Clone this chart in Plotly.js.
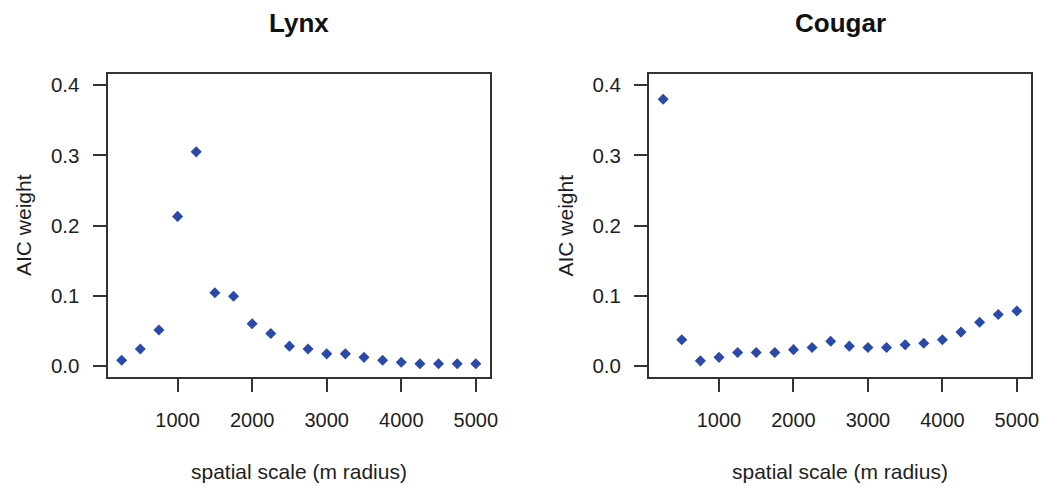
<!DOCTYPE html>
<html>
<head>
<meta charset="utf-8">
<script src="https://cdn.plot.ly/plotly-3.0.1.min.js"></script>
<style>
html, body { margin: 0; padding: 0; background: #fff; }
#chart { width: 1041px; height: 487px; }
</style>
</head>
<body>
<div id="chart"></div>
<script>
// spatial scale (m radius)
const scales = [250, 500, 750, 1000, 1250, 1500, 1750, 2000, 2250, 2500,
                2750, 3000, 3250, 3500, 3750, 4000, 4250, 4500, 4750, 5000];
// AIC weights
const lynxWeights = [0.008, 0.024, 0.051, 0.213, 0.305, 0.104, 0.099, 0.060, 0.046, 0.028,
                     0.024, 0.017, 0.017, 0.012, 0.008, 0.005, 0.003, 0.003, 0.003, 0.003];
const cougarWeights = [0.380, 0.037, 0.007, 0.012, 0.019, 0.019, 0.019, 0.023, 0.026, 0.035,
                       0.028, 0.026, 0.026, 0.030, 0.032, 0.037, 0.048, 0.062, 0.073, 0.078];
const panelTitles = ["Lynx", "Cougar"];
const xTickVals = [1000, 2000, 3000, 4000, 5000];
const yTickVals = [0, 0.1, 0.2, 0.3, 0.4];
const xLabel = "spatial scale (m radius)";
const yLabel = "AIC weight";

const W = 1041, H = 487;
const FONT = "Liberation Sans, Arial, sans-serif";
const INK = "#1e1e1e";
const MARK = "#2a49a8";

const marker = { symbol: "diamond", size: 8.5, color: MARK, line: { width: 0 } };
const traces = [
  { x: scales, y: lynxWeights, type: "scatter", mode: "markers", marker: marker, xaxis: "x", yaxis: "y", hoverinfo: "x+y" },
  { x: scales, y: cougarWeights, type: "scatter", mode: "markers", marker: marker, xaxis: "x2", yaxis: "y2", hoverinfo: "x+y" }
];

// panel boxes in pixels
const boxes = [
  { l: 107.5, r: 490, t: 74, b: 377 },
  { l: 649, r: 1031, t: 74, b: 377 }
];

function xa(box) {
  return {
    domain: [box.l / W, box.r / W],
    range: [60, 5190],
    tickvals: xTickVals,
    ticktext: xTickVals.map(String),
    ticks: "outside", ticklen: 13, tickwidth: 2, tickcolor: "#333",
    showline: true, mirror: true, linewidth: 2, linecolor: "#333",
    showgrid: false, zeroline: false,
    ticklabelstandoff: 11,
    tickfont: { family: FONT, size: 20, color: INK }
  };
}
function ya(box, anchor) {
  return {
    domain: [1 - box.b / H, 1 - box.t / H],
    range: [-0.016, 0.416],
    tickvals: yTickVals,
    tickformat: ".1f",
    ticks: "outside", ticklen: 13, tickwidth: 2, tickcolor: "#333",
    showline: true, mirror: true, linewidth: 2, linecolor: "#333",
    showgrid: false, zeroline: false,
    ticklabelstandoff: 9,
    anchor: anchor,
    tickfont: { family: FONT, size: 20.5, color: INK }
  };
}

const annotations = [];
boxes.forEach((b, i) => {
  const cx = (b.l + b.r) / 2 / W;
  annotations.push({ text: panelTitles[i], x: cx, y: 1 - 23 / H, xref: "paper", yref: "paper",
    xanchor: "center", yanchor: "middle", showarrow: false,
    font: { family: FONT, size: 26, color: "#111", weight: "bold" } });
  annotations.push({ text: xLabel, x: cx, y: 1 - 471 / H, xref: "paper", yref: "paper",
    xanchor: "center", yanchor: "middle", showarrow: false,
    font: { family: FONT, size: 21, color: INK } });
  annotations.push({ text: yLabel, x: (b.l - 84) / W, y: 1 - (b.t + b.b) / 2 / H, xref: "paper", yref: "paper",
    xanchor: "center", yanchor: "middle", textangle: -90, showarrow: false,
    font: { family: FONT, size: 21, color: INK } });
});

const layout = {
  width: W, height: H,
  margin: { l: 0, r: 0, t: 0, b: 0 },
  paper_bgcolor: "#ffffff", plot_bgcolor: "#ffffff",
  showlegend: false,
  xaxis: Object.assign(xa(boxes[0]), { anchor: "y" }),
  yaxis: ya(boxes[0], "x"),
  xaxis2: Object.assign(xa(boxes[1]), { anchor: "y2" }),
  yaxis2: ya(boxes[1], "x2"),
  annotations: annotations
};

Plotly.newPlot("chart", traces, layout, { displayModeBar: false, staticPlot: true });
</script>
</body>
</html>
